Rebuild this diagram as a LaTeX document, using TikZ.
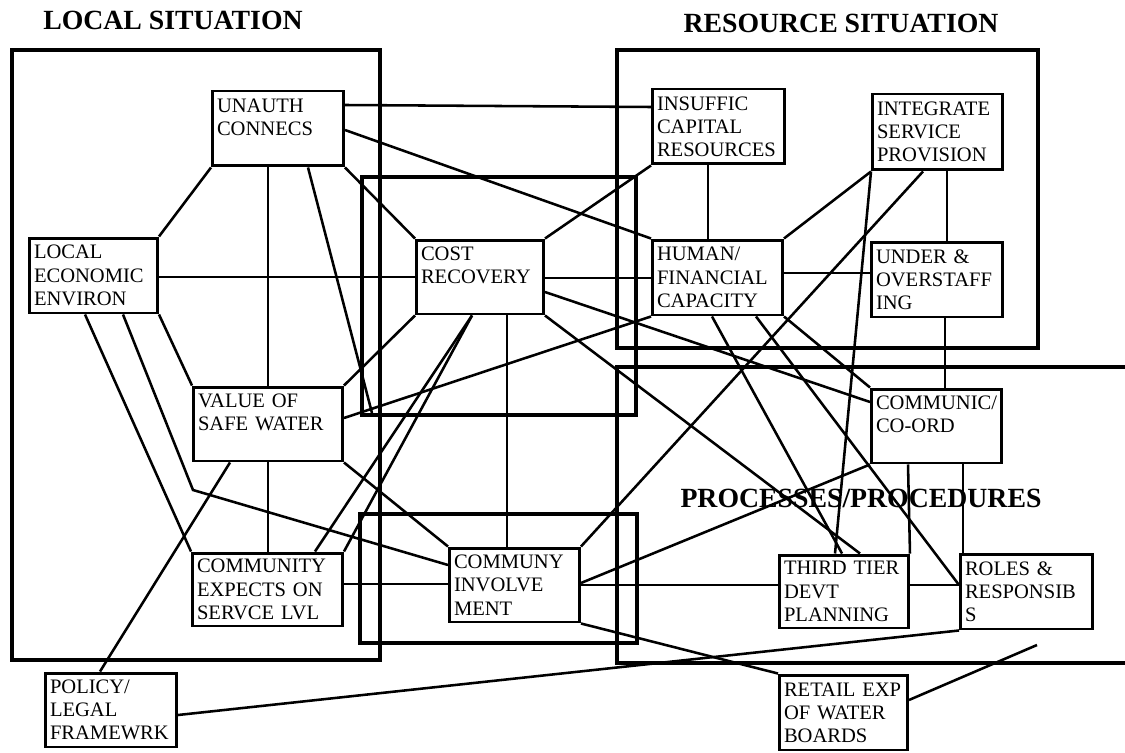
\documentclass[tikz,border=0pt]{standalone}
\usepackage{fontspec}
\setmainfont{Liberation Serif}
\newlength\bxw \newlength\bxh \newlength\bxt
\newcommand{\bx}[6]{%
  \bxw=\dimexpr #4pt-#2pt\relax \bxw=0.569055\bxw
  \bxh=\dimexpr #5pt-#3pt\relax \bxh=0.569055\bxh
  \bxt=\dimexpr #4pt-#2pt-8pt\relax \bxt=0.569055\bxt
  \node[box, minimum width=\bxw, minimum height=\bxh, text width=\bxt] (#1) at ({(#2+#4)/2},{(#3+#5)/2}) {#6};}
\begin{document}
\begin{tikzpicture}[x=0.02cm, y=-0.02cm,
  box/.style={draw, line width=1.7pt, rectangle, inner xsep=0.09cm, inner ysep=0pt, align=left,
     font=\fontsize{11.7}{13.2}\selectfont},
  frame/.style={draw, line width=2.3pt},
  conn/.style={line width=1.45pt},
  title/.style={inner sep=0pt, anchor=base, font=\fontsize{15.8}{18}\selectfont\bfseries}]
\useasboundingbox (0,0) rectangle (1125,753);
% frames
\draw[frame] (12,50) rectangle (380,660);
\draw[frame] (617,50) rectangle (1038,348);
\draw[frame] (362,177) rectangle (636,415);
\draw[frame] (1125,367) -- (617,367) -- (617,663) -- (1125,663);
\draw[frame] (360,514) rectangle (637,643);
% titles
\node[title] (tlocal) at (173,30) {LOCAL SITUATION};
\node[title] (tres) at (841,33) {RESOURCE SITUATION};
\node[title] (tproc) at (861,507) {PROCESSES/PROCEDURES};
% boxes
\bx{unauth}{213}{91}{343}{166}{UNAUTH\\CONNECS\\\mbox{}}
\bx{econ}{30}{238}{157}{313}{LOCAL\\ECONOMIC\\ENVIRON}
\bx{value}{194}{387}{342}{461}{VALUE OF\\SAFE WATER\\\mbox{}}
\bx{expects}{193}{553}{342}{626}{COMMUNITY\\EXPECTS ON\\SERVCE LVL}
\bx{policy}{46}{673}{176}{747}{POLICY/\\LEGAL\\FRAMEWRK}
\bx{cost}{417}{240}{543}{314}{COST\\RECOVERY\\\mbox{}}
\bx{involve}{450}{548}{579}{622}{COMMUNY\\INVOLVE\\MENT}
\bx{insuffic}{653}{89}{784}{164}{INSUFFIC\\CAPITAL\\RESOURCES}
\bx{integrate}{873}{94}{1002}{170}{INTEGRATE\\SERVICE\\PROVISION}
\bx{human}{653}{240}{782}{315}{HUMAN/\\FINANCIAL\\CAPACITY}
\bx{under}{872}{242}{1002}{317}{UNDER \&\\OVERSTAFF\\ING}
\bx{communic}{872}{389}{1001}{463}{COMMUNIC/\\CO-ORD\\\mbox{}}
\bx{third}{780}{555}{908}{628}{THIRD TIER\\DEVT\\PLANNING}
\bx{roles}{961}{554}{1092}{629}{ROLES \&\\RESPONSIB\\S}
\bx{retail}{780}{675}{907}{750}{RETAIL EXP\\OF WATER\\BOARDS}
% free coordinates
\coordinate (uend) at (372,413);
\coordinate (bend) at (193,490);
\coordinate (rfree) at (1037,645);
% connectors
\begin{scope}[conn]
\draw (unauth.east |- 0,105) -- (insuffic.west |- 0,107);
\draw (unauth.east |- 0,130) -- (human.north west);
\draw (unauth.south west) -- (econ.north east);
\draw (268,0 |- unauth.south) -- (268,0 |- value.north);
\draw (268,0 |- value.south) -- (268,0 |- expects.north);
\draw (308,0 |- unauth.south) -- (uend);
\draw (unauth.south east) -- (cost.north west);
\draw (econ.east |- 0,277) -- (cost.west |- 0,277);
\draw (cost.east |- 0,278) -- (human.west |- 0,278);
\draw (human.east |- 0,273) -- (under.west |- 0,273);
\draw (econ.south east) -- (value.north west);
\draw (85,0 |- econ.south) -- (expects.north west);
\draw (123,0 |- econ.south) -- (bend) -- (involve.west |- 0,565);
\draw (230,0 |- value.south) -- (100,0 |- policy.north);
\draw (value.south east) -- (involve.north west);
\draw (value.north east) -- (cost.south west);
\draw (value.east |- 0,418) -- (human.south west);
\draw (expects.east |- 0,584) -- (involve.west |- 0,584);
\draw (involve.east |- 0,585) -- (third.west |- 0,585);
\draw (third.east |- 0,585) -- (roles.west |- 0,585);
\draw (315,0 |- expects.north) -- (472,0 |- cost.south);
\draw (expects.north east) -- (472,0 |- cost.south);
\draw (507,0 |- cost.south) -- (507,0 |- involve.north);
\draw (cost.north east) -- (insuffic.south west);
\draw (708,0 |- insuffic.south) -- (708,0 |- human.north);
\draw (integrate.south west) -- (human.north east);
\draw (integrate.south west) -- (835,0 |- third.north);
\draw (923,0 |- integrate.south) -- (involve.north east);
\draw (947,0 |- integrate.south) -- (947,0 |- under.north);
\draw (945,0 |- under.south) -- (945,0 |- communic.north);
\draw (908,0 |- communic.south) -- (third.north east);
\draw (963,0 |- communic.south) -- (963,0 |- roles.north);
\draw (cost.east |- 0,292) -- (communic.west |- 0,402);
\draw (human.south east) -- (communic.north west);
\draw (cost.south east) -- (860,0 |- third.north);
\draw (712,0 |- human.south) -- (842,0 |- third.north);
\draw (756,0 |- human.south) -- (roles.west |- 0,585);
\draw (involve.east |- 0,583) -- (communic.south west);
\draw (policy.east |- 0,715) -- (roles.south west);
\draw (involve.south east) -- (retail.north west);
\draw (retail.east |- 0,700) -- (rfree);
\end{scope}
\end{tikzpicture}
\end{document}
